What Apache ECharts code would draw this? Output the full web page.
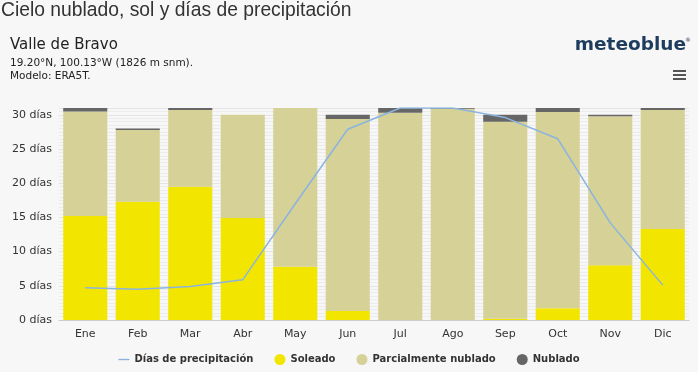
<!DOCTYPE html>
<html><head><meta charset="utf-8">
<script src="https://cdn.jsdelivr.net/npm/echarts@6/dist/echarts.min.js"></script>
<style>html,body{margin:0;padding:0;background:#f7f7f7}#c{width:698px;height:372px}</style>
</head><body><div id="c"></div>
<script>
const months = ['Ene','Feb','Mar','Abr','May','Jun','Jul','Ago','Sep','Oct','Nov','Dic'];
const sunny = [15.2,17.3,19.5,14.9,7.8,1.3,0,0,0.2,1.7,8.0,13.3];
const partly = [15.3,10.5,11.2,15.1,23.2,28.1,30.3,30.9,28.8,28.7,21.8,17.4];
const overcast = [0.5,0.2,0.3,0,0,0.6,0.7,0.1,1.0,0.6,0.2,0.3];
const precip = [4.7,4.5,4.9,5.9,17.0,27.9,31,31,29.6,26.5,14.2,5.1];
const yTicks = [0,5,10,15,20,25,30];

const chart = echarts.init(document.getElementById('c'));
const F = 'DejaVu Sans';
chart.setOption({
  backgroundColor:'#f7f7f7',
  animation:false,
  textStyle:{fontFamily:F},
  title:[
    {text:'Cielo nublado, sol y días de precipitación',left:1,top:1,padding:0,textStyle:{fontFamily:'Liberation Sans',fontSize:19.3,fontWeight:'normal',color:'#333'}},
    {text:'Valle de Bravo',left:10,top:38,padding:0,textStyle:{fontFamily:F,fontSize:15,fontWeight:'normal',color:'#222'}},
    {text:'19.20°N, 100.13°W (1826 m snm).\nModelo: ERA5T.',left:10,top:57,padding:0,textStyle:{fontFamily:F,fontSize:10.5,fontWeight:'normal',color:'#222',lineHeight:13}},
    {text:'meteoblue',right:12,top:36,padding:0,textStyle:{fontFamily:F,fontSize:18.5,fontWeight:'bold',color:'#1d3c5e'}},
    {text:'®',right:7,top:37,padding:0,textStyle:{fontFamily:F,fontSize:6,fontWeight:'normal',color:'#1d3c5e'}}
  ],
  graphic:[
    {type:'rect',shape:{x:673,y:70,width:13,height:2},style:{fill:'#555'}},
    {type:'rect',shape:{x:673,y:74,width:13,height:2},style:{fill:'#555'}},
    {type:'rect',shape:{x:673,y:78,width:13,height:2},style:{fill:'#555'}}
  ],
  grid:{left:59,right:9,top:108,bottom:52},
  legend:{bottom:2,left:'center',itemGap:21,itemWidth:11,itemHeight:11,
    textStyle:{fontFamily:F,fontSize:10,fontWeight:'bold',color:'#333'},
    data:[{name:'Días de precipitación',icon:'path://M0,5 L12,5 L12,6.5 L0,6.5 Z'},
          {name:'Soleado',icon:'circle'},{name:'Parcialmente nublado',icon:'circle'},{name:'Nublado',icon:'circle'}]},
  xAxis:{type:'category',data:months,axisTick:{show:false},
    axisLine:{lineStyle:{color:'#ccc'}},
    axisLabel:{fontFamily:F,fontSize:11,color:'#333',margin:9}},
  yAxis:{type:'value',min:0,max:31,interval:5,
    axisLabel:{fontFamily:F,fontSize:11,color:'#333',margin:7,
      formatter:v=>yTicks.includes(v)?v+' días':''},
    splitLine:{lineStyle:{color:'#e4e4e4'}},
    minorTick:{show:false,splitNumber:10},
    minorSplitLine:{show:true,lineStyle:{color:'#ececec'}}},
  series:[
    {name:'Soleado',type:'bar',stack:'a',data:sunny,barCategoryGap:'16%',itemStyle:{color:'#f2e600'}},
    {name:'Parcialmente nublado',type:'bar',stack:'a',data:partly,itemStyle:{color:'#d6d197'}},
    {name:'Nublado',type:'bar',stack:'a',data:overcast,itemStyle:{color:'#666666'}},
    {name:'Días de precipitación',type:'line',data:precip,symbol:'none',smooth:false,
      lineStyle:{color:'#8ab4df',width:1.5},itemStyle:{color:'#8ab4df'},z:5}
  ]
});
</script></body></html>
